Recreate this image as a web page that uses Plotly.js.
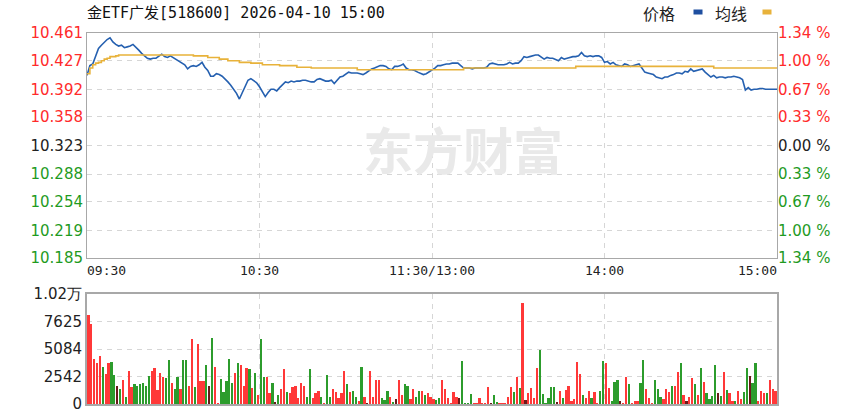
<!DOCTYPE html>
<html><head><meta charset="utf-8">
<script src="https://cdn.plot.ly/plotly-3.0.1.min.js"></script>
<style>html,body{margin:0;padding:0;background:#fff}#chart{width:865px;height:413px}</style>
</head><body><div id="chart"></div>
<script>
const chartTitle = "金ETF广发[518600] 2026-04-10 15:00";
const prevClose = 10.323;
const priceTicks = [10.461, 10.427, 10.392, 10.358, 10.323, 10.288, 10.254, 10.219, 10.185];
const priceTickLabels = ["10.461","10.427","10.392","10.358","10.323","10.288","10.254","10.219","10.185"];
const pctLabels = ["1.34 %","1.00 %","0.67 %","0.33 %","0.00 %","0.33 %","0.67 %","1.00 %","1.34 %"];
const volTicks = [0, 2542, 5084, 7625, 10168];
const volTickLabels = ["0","2542","5084","7625","1.02万"];
const timeLabels = ["09:30","10:30","11:30/13:00","14:00","15:00"];
const legendNames = ["价格","均线"];
const watermark = "东方财富";

const price = [
10.409,10.421,10.423,10.432,10.442,10.446,10.450,10.453,10.455,10.450,
10.447,10.445,10.446,10.443,10.444,10.445,10.447,10.444,10.440,10.436,
10.433,10.430,10.429,10.430,10.430,10.432,10.435,10.432,10.431,10.433,
10.431,10.428,10.426,10.424,10.422,10.417,10.420,10.421,10.420,10.422,
10.425,10.419,10.415,10.408,10.408,10.411,10.410,10.408,10.405,10.401,
10.397,10.392,10.387,10.380,10.387,10.396,10.403,10.405,10.403,10.400,
10.395,10.389,10.383,10.388,10.392,10.392,10.390,10.394,10.398,10.401,
10.400,10.402,10.401,10.402,10.402,10.403,10.403,10.402,10.401,10.401,
10.404,10.405,10.403,10.402,10.402,10.403,10.399,10.403,10.407,10.408,
10.411,10.413,10.412,10.412,10.412,10.411,10.410,10.412,10.415,10.417,
10.418,10.420,10.421,10.421,10.420,10.417,10.416,10.420,10.420,10.421,
10.423,10.418,10.416,10.416,10.415,10.413,10.411,10.410,10.411,10.413,
10.416,10.418,10.421,10.421,10.422,10.423,10.423,10.424,10.424,10.424,
10.421,10.418,10.418,10.418,10.417,10.418,10.418,10.418,10.418,10.419,
10.423,10.424,10.423,10.422,10.422,10.422,10.423,10.425,10.423,10.424,
10.424,10.427,10.432,10.431,10.432,10.433,10.434,10.434,10.431,10.429,
10.431,10.430,10.430,10.428,10.427,10.431,10.429,10.430,10.431,10.432,
10.432,10.433,10.437,10.433,10.432,10.433,10.432,10.433,10.433,10.431,
10.425,10.426,10.423,10.425,10.422,10.421,10.420,10.423,10.422,10.420,
10.421,10.422,10.423,10.418,10.413,10.412,10.411,10.410,10.407,10.406,
10.405,10.407,10.407,10.409,10.410,10.412,10.412,10.411,10.414,10.413,
10.417,10.414,10.415,10.416,10.417,10.413,10.410,10.407,10.409,10.406,
10.407,10.407,10.406,10.407,10.407,10.408,10.407,10.406,10.404,10.391,
10.394,10.391,10.392,10.392,10.393,10.393,10.392,10.392,10.392,10.392,
10.392];

const avgPrice = [
10.411,10.418,10.422,10.424,10.425,10.427,10.429,10.430,10.432,10.432,
10.433,10.434,10.434,10.434,10.434,10.434,10.434,10.434,10.434,10.434,
10.434,10.434,10.434,10.434,10.434,10.434,10.434,10.434,10.434,10.434,
10.434,10.434,10.434,10.434,10.434,10.434,10.434,10.433,10.433,10.433,
10.433,10.433,10.431,10.431,10.431,10.431,10.429,10.429,10.429,10.427,
10.427,10.427,10.427,10.425,10.425,10.425,10.425,10.424,10.424,10.424,
10.424,10.422,10.422,10.422,10.422,10.422,10.422,10.421,10.421,10.421,
10.421,10.421,10.421,10.419,10.419,10.419,10.419,10.419,10.418,10.418,
10.418,10.418,10.418,10.418,10.418,10.418,10.418,10.418,10.418,10.418,
10.418,10.418,10.418,10.418,10.416,10.416,10.416,10.416,10.416,10.416,
10.416,10.416,10.416,10.416,10.416,10.416,10.416,10.416,10.416,10.416,
10.416,10.416,10.416,10.416,10.416,10.416,10.416,10.416,10.416,10.416,
10.416,10.416,10.416,10.416,10.416,10.416,10.416,10.416,10.416,10.416,
10.416,10.418,10.418,10.418,10.418,10.418,10.418,10.418,10.418,10.418,
10.418,10.418,10.418,10.418,10.418,10.418,10.418,10.418,10.418,10.418,
10.418,10.418,10.418,10.418,10.418,10.418,10.418,10.418,10.418,10.418,
10.418,10.418,10.418,10.418,10.418,10.418,10.418,10.418,10.418,10.418,
10.420,10.420,10.420,10.420,10.420,10.420,10.420,10.420,10.420,10.420,
10.420,10.420,10.420,10.420,10.420,10.420,10.420,10.420,10.420,10.420,
10.420,10.420,10.420,10.420,10.420,10.420,10.420,10.420,10.420,10.420,
10.420,10.420,10.420,10.420,10.420,10.420,10.420,10.420,10.420,10.420,
10.420,10.420,10.420,10.420,10.420,10.420,10.420,10.420,10.418,10.418,
10.418,10.418,10.418,10.418,10.418,10.418,10.418,10.418,10.418,10.418,
10.418,10.418,10.418,10.418,10.418,10.418,10.418,10.418,10.418,10.418,
10.418];

const volume = [
8224,7392,4158,3757,4435,3450,2772,3757,3911,2680,
1663,1386,2218,678,3049,1540,1817,1663,1817,1971,
1700,2618,3049,3295,1294,2895,2526,2372,4066,1971,
1386,2526,1386,4066,4066,1663,5975,1571,5544,2125,
2125,3604,1663,6068,3450,123,2340,1140,2125,4158,
1910,2895,3757,3573,1663,3357,3234,1509,2895,832,
5975,2464,2464,1047,1910,215,832,1355,3203,1078,
985,1540,1663,523,
1910,1663,678,3203,523,985,1232,678,123,2711,
678,1355,1140,523,985,3049,1817,1078,1232,678,
308,3450,678,123,3049,678,2218,2218,523,370,
1232,678,215,431,2218,832,1817,1663,431,1386,
678,1232,1232,832,985,678,431,370,523,2218,
1355,523,123,1078,678,523,4004,123,123,924,
123,123,523,123,123,1602,123,832,215,123,
123,123,678,1602,1078,2464,1478,9360,400,985,
1509,523,3295,4990,924,123,523,1540,1602,215,
1232,523,1294,1663,308,431,3850,2772,
832,523,1232,523,1078,123,1232,4004,3757,1509,
308,2064,2218,300,123,2464,1817,123,277,277,
1971,4066,1386,523,123,2218,1386,678,431,1386,
1100,1663,1663,2926,3757,832,300,678,2372,1817,832,
3295,2064,985,462,700,3604,985,770,2926,1294,985,
277,277,1232,431,1140,3295,2618,1910,3757,308,
1232,985,985,2218,1386,1232];

const volDir = [
"r","r","r","r","r","g","r","r","g","g",
"d","g","r","g","r","r","g","g","g","g",
"g","g","r","r","r","r","r","g","g","r",
"g","g","r","g","g","r","r","g","r","r",
"r","g","d","g","r","r","g","g","g","g",
"g","r","g","r","r","r","g","r","g","r",
"g","g","r","r","g","d","g","r","r","g",
"r","r","r","r",
"r","r","g","g","r","r","r","g","r","g",
"g","r","r","r","r","r","g","r","g","g",
"r","g","r","d","r","r","r","r","g","g",
"g","r","g","d","r","r","g","g","r","r",
"g","g","r","g","r","r","r","g","g","r",
"r","r","r","r","r","d","g","g","g","g",
"r","r","r","r","r","r","d","g","g","r",
"r","r","r","r","g","r","g","r","d","r",
"r","r","r","g","g","g","g","g","g","d",
"r","g","r","r","r","r","r","r",
"g","r","r","g","r","r","g","g","r","r",
"g","g","g","d","r","r","g","r","r","r",
"g","g","r","r","r","g","g","g","r","r",
"r","g","r","r","g","r","d","r","r","g","r",
"g","r","g","g","g","g","d","g","r","g","r",
"r","g","r","r","g","g","d","g","g","r",
"r","r","g","r","r","r"];

const minutes = price.map((_, i) => i);
const volMinutes = volume.map((_, i) => i + 1);
const RED = "#ff2b2b", GREEN = "#1f9b1f", BLACK = "#222222";
const BLUE = "#2560b0", ORANGE = "#e8b23a";
const dirColor = {r: "#ff3838", g: "#2c9c2c", d: "#6a1a1a"};

function colorFor(v) {
  if (Math.abs(v - prevClose) < 1e-6) return BLACK;
  return v > prevClose ? RED : GREEN;
}
const leftText = priceTicks.map((v, i) => `<span style="color:${colorFor(v)}">${priceTickLabels[i]}</span>`);
const rightText = priceTicks.map((v, i) => `<span style="color:${colorFor(v)}">${pctLabels[i]}</span>`);

const traces = [
  {x: minutes, y: price, type: "scatter", mode: "lines", xaxis: "x", yaxis: "y",
   line: {color: BLUE, width: 1.6}, hoverinfo: "skip"},
  {x: minutes, y: avgPrice, type: "scatter", mode: "lines", xaxis: "x3", yaxis: "y3",
   line: {color: ORANGE, width: 1.6, shape: "hv"}, hoverinfo: "skip"},
  {x: volMinutes, y: volume, type: "bar", xaxis: "x2", yaxis: "y2",
   marker: {color: volDir.map(d => dirColor[d]), line: {width: 0}}, width: 0.75, hoverinfo: "skip"}
];

const gridCol = "#d6d6d6";
const frameCol = "#a8a8a8";
const numFont = {family: "DejaVu Sans, Verdana, sans-serif", size: 15, color: BLACK};
const legFont = {family: "Noto Sans CJK SC, sans-serif", size: 16, color: "#222"};

function legendText(txt, xpx) {
  return {text: txt, xref: "paper", yref: "paper", x: (xpx - 87) / 690, xanchor: "right",
          y: 1, yanchor: "middle", yshift: 20, showarrow: false, font: legFont};
}
function legendMark(col, xpx) {
  return {text: "", xref: "paper", yref: "paper", x: (xpx - 87) / 690, xanchor: "center",
          y: 1, yanchor: "middle", yshift: 21, showarrow: false, width: 8, height: 4,
          bgcolor: col, borderpad: 0};
}

const layout = {
  width: 865, height: 413,
  margin: {l: 87, r: 88, t: 33, b: 9},
  paper_bgcolor: "#ffffff", plot_bgcolor: "#ffffff",
  showlegend: false, bargap: 0,
  title: {text: chartTitle, font: {family: "DejaVu Sans Mono, Noto Sans CJK SC, monospace", size: 15, color: "#111"},
          xref: "paper", x: 0, xanchor: "left", yref: "container", y: 1 - 13/413, yanchor: "middle"},
  xaxis: {domain: [0, 1], range: [0, 240], anchor: "y", showgrid: false, zeroline: false,
          tickmode: "array", tickvals: [6.8, 60, 120, 180, 233.2], ticktext: timeLabels,
          tickfont: {family: "DejaVu Sans Mono, monospace", size: 13, color: "#222"},
          ticks: "", showline: true, mirror: true, linecolor: frameCol, linewidth: 1, fixedrange: true},
  xaxis3: {overlaying: "x", range: [0, 240], anchor: "y3", showticklabels: false, ticks: "",
           tickmode: "array", tickvals: [60, 120, 180], showgrid: true, gridcolor: gridCol,
           griddash: "5px,5px", gridwidth: 1, zeroline: false, showline: false},
  yaxis: {domain: [146/371, 1], range: [10.185, 10.461], anchor: "x", side: "left",
          tickmode: "array", tickvals: priceTicks, ticktext: leftText, tickfont: numFont,
          showgrid: true, gridcolor: gridCol, griddash: "5px,5px", zeroline: false, ticks: "",
          ticklabeloverflow: "allow",
          showline: true, mirror: true, linecolor: frameCol, linewidth: 1, fixedrange: true},
  yaxis3: {overlaying: "y", range: [10.185, 10.461], anchor: "x3", side: "right",
           tickmode: "array", tickvals: priceTicks, ticktext: rightText, tickfont: numFont,
           ticklabeloverflow: "allow",
           showgrid: false, zeroline: false, ticks: "", showline: false},
  xaxis2: {domain: [0, 1], range: [0.5, 240.5], anchor: "y2", showticklabels: false, ticks: "",
           tickmode: "array", tickvals: [60.5, 120.5, 180.5], showgrid: true, gridcolor: gridCol,
           griddash: "5px,5px", zeroline: false, showline: true, mirror: true, linecolor: frameCol, linewidth: 2},
  yaxis2: {domain: [0, 110/371], range: [0, 10168], anchor: "x2", side: "left",
           tickmode: "array", tickvals: volTicks, ticktext: volTickLabels, tickfont: numFont,
           ticklabeloverflow: "allow",
           showgrid: true, gridcolor: gridCol, griddash: "5px,5px", zeroline: false, ticks: "",
           showline: true, mirror: true, linecolor: frameCol, linewidth: 2},
  annotations: [
    legendText(legendNames[0], 677),
    legendMark("#1f4fa0", 698),
    legendText(legendNames[1], 749),
    legendMark(ORANGE, 767),
    {text: `<b>${watermark}</b>`, xref: "paper", yref: "paper", x: 0.545, y: 0.69,
     xanchor: "center", yanchor: "middle", showarrow: false,
     font: {family: "Noto Sans CJK SC, sans-serif", size: 50, color: "#e9e9e9"}}
  ]
};

Plotly.newPlot("chart", traces, layout, {displayModeBar: false, staticPlot: true});
</script>
</body></html>
